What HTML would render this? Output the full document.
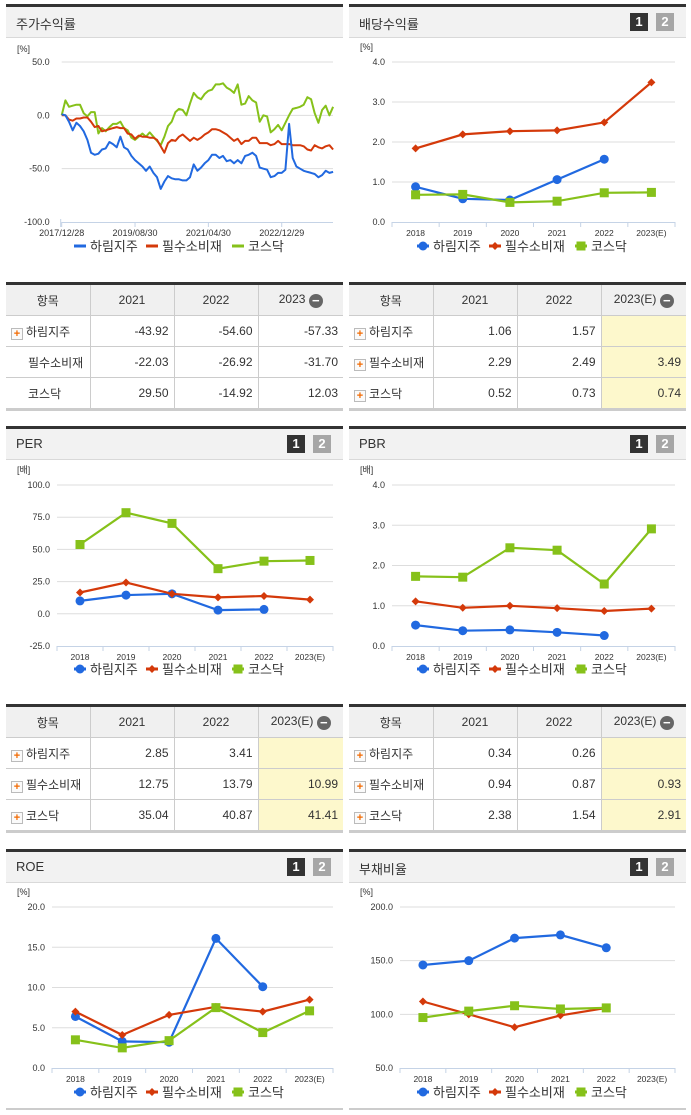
<!DOCTYPE html>
<html><head><meta charset="utf-8">
<style>
body{margin:0;background:#fff;width:691px;height:1115px;position:relative;overflow:hidden;font-family:"Liberation Sans","Noto Sans CJK KR",sans-serif;}
.panel-head{position:absolute;height:30px;background:#f2f2f2;border-top:3px solid #333;border-bottom:1px solid #d9d9d9;}
.panel-head .t{position:absolute;left:10px;top:7px;font-size:13px;color:#333;}
.btn{position:absolute;top:6px;width:18px;height:18px;color:#fff;font-size:13px;font-weight:bold;text-align:center;line-height:18px;}
.b1{right:38px;background:#333;}
.b2{right:12px;background:#a6a6a6;}
table{position:absolute;border-collapse:collapse;font-size:12px;color:#333;border-top:3px solid #333;border-bottom:3px solid #ccc;table-layout:fixed;}
td,th{border:1px solid #ccc;height:30px;padding:0 5px;white-space:nowrap;overflow:hidden;}
td:first-child,th:first-child{border-left:none;}
td:last-child,th:last-child{border-right:none;}
th{background:#f0f0f0;font-weight:normal;height:30px;}
td.n{text-align:right;}
td.hl{background:#fdf8cc;}
.plus{display:inline-block;width:10px;height:10px;border:1px solid #bbb;background:#fafafa;color:#f26a00;font-size:11px;line-height:10px;text-align:center;font-weight:bold;margin-right:3px;vertical-align:-1px;}
.sp{display:inline-block;width:14px;margin-right:3px;}
.minus{display:inline-block;width:14px;height:14px;border-radius:7px;background:#666;color:#fff;line-height:13px;text-align:center;font-size:13px;font-weight:bold;vertical-align:-2px;}
</style></head>
<body>
<div class="panel-head" style="left:6px;top:4px;width:337px"><span class="t">주가수익률</span></div>
<div class="panel-head" style="left:349px;top:4px;width:337px"><span class="t">배당수익률</span><span class="btn b1">1</span><span class="btn b2">2</span></div>
<div class="panel-head" style="left:6px;top:426px;width:337px"><span class="t">PER</span><span class="btn b1">1</span><span class="btn b2">2</span></div>
<div class="panel-head" style="left:349px;top:426px;width:337px"><span class="t">PBR</span><span class="btn b1">1</span><span class="btn b2">2</span></div>
<div class="panel-head" style="left:6px;top:849px;width:337px"><span class="t">ROE</span><span class="btn b1">1</span><span class="btn b2">2</span></div>
<div class="panel-head" style="left:349px;top:849px;width:337px"><span class="t">부채비율</span><span class="btn b1">1</span><span class="btn b2">2</span></div>
<div style="position:absolute;left:6px;top:1108px;width:337px;height:2px;background:#ccc"></div>
<div style="position:absolute;left:349px;top:1108px;width:337px;height:2px;background:#ccc"></div>

<table style="left:6px;top:282px;width:337px">
<colgroup><col style="width:84px"><col style="width:84px"><col style="width:84px"><col></colgroup>
<tr><th>항목</th><th>2021</th><th>2022</th><th>2023 <span class="minus">−</span></th></tr>
<tr><td><span class="plus">+</span>하림지주</td><td class="n">-43.92</td><td class="n">-54.60</td><td class="n">-57.33</td></tr>
<tr><td><span class="sp"></span>필수소비재</td><td class="n">-22.03</td><td class="n">-26.92</td><td class="n">-31.70</td></tr>
<tr><td><span class="sp"></span>코스닥</td><td class="n">29.50</td><td class="n">-14.92</td><td class="n">12.03</td></tr>
</table>
<table style="left:349px;top:282px;width:337px">
<colgroup><col style="width:84px"><col style="width:84px"><col style="width:84px"><col></colgroup>
<tr><th>항목</th><th>2021</th><th>2022</th><th>2023(E) <span class="minus">−</span></th></tr>
<tr><td><span class="plus">+</span>하림지주</td><td class="n">1.06</td><td class="n">1.57</td><td class="n hl"></td></tr>
<tr><td><span class="plus">+</span>필수소비재</td><td class="n">2.29</td><td class="n">2.49</td><td class="n hl">3.49</td></tr>
<tr><td><span class="plus">+</span>코스닥</td><td class="n">0.52</td><td class="n">0.73</td><td class="n hl">0.74</td></tr>
</table>
<table style="left:6px;top:704px;width:337px">
<colgroup><col style="width:84px"><col style="width:84px"><col style="width:84px"><col></colgroup>
<tr><th>항목</th><th>2021</th><th>2022</th><th>2023(E) <span class="minus">−</span></th></tr>
<tr><td><span class="plus">+</span>하림지주</td><td class="n">2.85</td><td class="n">3.41</td><td class="n hl"></td></tr>
<tr><td><span class="plus">+</span>필수소비재</td><td class="n">12.75</td><td class="n">13.79</td><td class="n hl">10.99</td></tr>
<tr><td><span class="plus">+</span>코스닥</td><td class="n">35.04</td><td class="n">40.87</td><td class="n hl">41.41</td></tr>
</table>
<table style="left:349px;top:704px;width:337px">
<colgroup><col style="width:84px"><col style="width:84px"><col style="width:84px"><col></colgroup>
<tr><th>항목</th><th>2021</th><th>2022</th><th>2023(E) <span class="minus">−</span></th></tr>
<tr><td><span class="plus">+</span>하림지주</td><td class="n">0.34</td><td class="n">0.26</td><td class="n hl"></td></tr>
<tr><td><span class="plus">+</span>필수소비재</td><td class="n">0.94</td><td class="n">0.87</td><td class="n hl">0.93</td></tr>
<tr><td><span class="plus">+</span>코스닥</td><td class="n">2.38</td><td class="n">1.54</td><td class="n hl">2.91</td></tr>
</table>

<svg id="charts" width="691" height="1115" style="position:absolute;left:0;top:0;pointer-events:none"></svg>

<script>
// ---- data ----
var seriesNames = ['하림지주','필수소비재','코스닥'];
var stockTicks = ['2017/12/28','2019/08/30','2021/04/30','2022/12/29'];
var stockTickMonths = [0,20,40,60];
var stockHarim = [1,0,-6,-14,-7,-10,-15,-23,-35,-37,-36,-32,-31,-25,-27,-30,-20,-30,-32,-38,-42,-45,-48,-52,-48,-54,-58,-69,-62,-57,-59,-60,-60,-61,-61,-58,-46,-52,-49,-45,-42,-37,-37,-40,-38,-43,-42,-45,-42,-45,-38,-37,-35,-38,-49,-50,-51,-58,-57,-54,-54,-51,-8,-40,-48,-50,-52,-53,-54,-55,-58,-56,-52,-54,-53];
var stockStaples = [0,0,-4,-5,-3,-3,-2,-2,-6,-11,-10,-15,-14,-13,-12,-11,-12,-12,-17,-18,-22,-19,-20,-20,-21,-21,-23,-29,-35,-26,-23,-24,-20,-18,-21,-24,-21,-23,-21,-18,-16,-13,-13,-14,-16,-18,-21,-24,-22,-27,-24,-24,-21,-21,-26,-26,-26,-28,-27,-24,-27,-27,-27,-28,-28,-28,-29,-32,-33,-28,-30,-31,-29,-28,-32];
var stockKosdaq = [0,14,8,9,10,10,2,-1,3,3,-17,-12,-15,-11,-8,-8,-6,-12,-14,-21,-23,-20,-17,-20,-16,-20,-24,-28,-20,-10,-6,3,6,5,0,11,21,17,15,20,23,24,29,29,30,26,24,21,29,10,11,18,14,12,-6,0,-1,-16,-13,-9,-14,-7,0,6,7,8,10,17,15,2,-7,5,9,0,8];

var years = ['2018','2019','2020','2021','2022','2023(E)'];
var divHarim = [0.88,0.58,0.55,1.06,1.57,null];
var divStaples = [1.84,2.19,2.27,2.29,2.49,3.49];
var divKosdaq = [0.68,0.69,0.49,0.52,0.73,0.74];
var perHarim = [10.0,14.5,15.5,2.85,3.41,null];
var perStaples = [16.5,24.3,15.5,12.75,13.79,10.99];
var perKosdaq = [53.8,78.5,70.2,35.04,40.87,41.41];
var pbrHarim = [0.52,0.38,0.40,0.34,0.26,null];
var pbrStaples = [1.11,0.95,1.00,0.94,0.87,0.93];
var pbrKosdaq = [1.73,1.71,2.44,2.38,1.54,2.91];
var roeHarim = [6.4,3.3,3.2,16.1,10.1,null];
var roeStaples = [7.0,4.1,6.6,7.6,7.0,8.5];
var roeKosdaq = [3.5,2.5,3.4,7.5,4.4,7.1];
var debtHarim = [146,150,171,174,162,null];
var debtStaples = [112,100,88,99,106,null];
var debtKosdaq = [97,103,108,105,106,null];

// ---- drawing ----
var NS='http://www.w3.org/2000/svg';
var svg=document.getElementById('charts');
var COLORS=['#2169e0','#d4390a','#86c11a'];
function mk(tag,attrs,parent){var e=document.createElementNS(NS,tag);for(var k in attrs)e.setAttribute(k,attrs[k]);(parent||svg).appendChild(e);return e;}
function txt(x,y,s,size,anchor,fill,parent){var t=mk('text',{x:x,y:y,'font-size':size,'text-anchor':anchor||'start',fill:fill||'#333','font-family':'Liberation Sans, Noto Sans CJK KR, sans-serif'},parent);t.textContent=s;return t;}
function marker(g,type,x,y,c){
  if(type===0)mk('circle',{cx:x,cy:y,r:4.5,fill:c},g);
  else if(type===1)mk('path',{d:'M'+x+' '+(y-4)+'L'+(x+4)+' '+y+'L'+x+' '+(y+4)+'L'+(x-4)+' '+y+'Z',fill:c},g);
  else mk('rect',{x:x-4.5,y:y-4.5,width:9,height:9,fill:c},g);
}
function legend(panelX,y,withMarkers){
  var g=mk('g',{});
  
  
  var offs=[74,146,232];
  for(var i=0;i<3;i++){
    var mx=panelX+offs[i];
    mk('line',{x1:mx-6,y1:y,x2:mx+6,y2:y,stroke:COLORS[i],'stroke-width':3},g);
    if(withMarkers)marker(g,i,mx,y,COLORS[i]);
    txt(mx+10,y+5,seriesNames[i],13,'start','#333',g);
  }
}
function catChart(o){
  var g=mk('g',{});
  
  
  function ys(v){return o.yTop+(o.yMax-v)/(o.yMax-o.yMin)*(o.yBot-o.yTop);}
  var band=(o.x1-o.x0)/o.cats.length;
  function xs(i){return o.x0+band*(i+0.5);}
  txt(o.panelX+11,o.yTop-12,o.unit,9,'start','#333',g);
  for(var i=0;i<o.ticks.length;i++){
    var v=o.ticks[i],y=ys(v);
    if(v!==o.yMin)mk('line',{x1:o.x0,y1:y,x2:o.x1,y2:y,stroke:'#ddd','stroke-width':1},g);
    txt(o.x0-7,y+3,v.toFixed(1),9,'end','#333',g);
  }
  mk('line',{x1:o.x0,y1:o.yBot+0.5,x2:o.x1,y2:o.yBot+0.5,stroke:'#c5d3e6','stroke-width':1},g);
  for(i=0;i<=o.cats.length;i++){var tx=o.x0+band*i;mk('line',{x1:tx,y1:o.yBot,x2:tx,y2:o.yBot+5,stroke:'#c5d3e6'},g);}
  for(i=0;i<o.cats.length;i++)txt(xs(i),o.yBot+14,o.cats[i],8.5,'middle','#333',g);
  for(var k=0;k<o.series.length;k++){
    var s=o.series[k],pts=[];
    for(i=0;i<s.length;i++)if(s[i]!==null)pts.push(xs(i).toFixed(1)+','+ys(s[i]).toFixed(1));
    mk('polyline',{points:pts.join(' '),fill:'none',stroke:COLORS[k],'stroke-width':2.2},g);
    for(i=0;i<s.length;i++)if(s[i]!==null)marker(g,k,xs(i),ys(s[i]),COLORS[k]);
  }
  legend(o.panelX,o.legendY,true);
}

// stock return chart
(function(){
  var g=mk('g',{});
  
  
  var x0=61.7,x1=333,pm=3.667,yTop=62,yBot=222;
  function ys(v){return yTop+(50-v)/150*(yBot-yTop);}
  function xs(m){return x0+m*pm;}
  txt(17,52,'[%]',9,'start','#333',g);
  [50,0,-50,-100].forEach(function(v){var y=ys(v);if(v!==-100)mk('line',{x1:x0,y1:y,x2:x1,y2:y,stroke:'#ddd'},g);txt(x0-12,y+3,v.toFixed(1),9,'end','#333',g);});
  mk('line',{x1:x0,y1:yBot+0.5,x2:x1,y2:yBot+0.5,stroke:'#c5d3e6'},g);
  mk('line',{x1:x0-1,y1:yBot-3,x2:x0-1,y2:yBot+5,stroke:'#c5d3e6'},g);
  for(var i=0;i<stockTicks.length;i++){var tx=xs(stockTickMonths[i]);mk('line',{x1:tx,y1:yBot,x2:tx,y2:yBot+5,stroke:'#c5d3e6'},g);txt(tx,yBot+14,stockTicks[i],9,'middle','#333',g);}
  var ss=[stockKosdaq,stockStaples,stockHarim],cs=[2,1,0];
  for(var k=0;k<3;k++){var s=ss[k],pts=[];for(i=0;i<s.length;i++)pts.push(xs(i).toFixed(1)+','+ys(s[i]).toFixed(1));
    mk('polyline',{points:pts.join(' '),fill:'none',stroke:COLORS[cs[k]],'stroke-width':2,'stroke-linejoin':'round'},g);}
  legend(6,246,false);
})();

catChart({name:'dividend-chart',panelX:349,x0:392,x1:675,yTop:62,yBot:222,yMin:0,yMax:4,ticks:[4,3,2,1,0],unit:'[%]',cats:years,series:[divHarim,divStaples,divKosdaq],legendY:246});
catChart({name:'per-chart',panelX:6,x0:57,x1:333,yTop:485,yBot:646,yMin:-25,yMax:100,ticks:[100,75,50,25,0,-25],unit:'[배]',cats:years,series:[perHarim,perStaples,perKosdaq],legendY:669});
catChart({name:'pbr-chart',panelX:349,x0:392,x1:675,yTop:485,yBot:646,yMin:0,yMax:4,ticks:[4,3,2,1,0],unit:'[배]',cats:years,series:[pbrHarim,pbrStaples,pbrKosdaq],legendY:669});
catChart({name:'roe-chart',panelX:6,x0:52,x1:333,yTop:907,yBot:1068,yMin:0,yMax:20,ticks:[20,15,10,5,0],unit:'[%]',cats:years,series:[roeHarim,roeStaples,roeKosdaq],legendY:1092});
catChart({name:'debt-ratio-chart',panelX:349,x0:400,x1:675,yTop:907,yBot:1068,yMin:50,yMax:200,ticks:[200,150,100,50],unit:'[%]',cats:years,series:[debtHarim,debtStaples,debtKosdaq],legendY:1092});
</script>
</body></html>
